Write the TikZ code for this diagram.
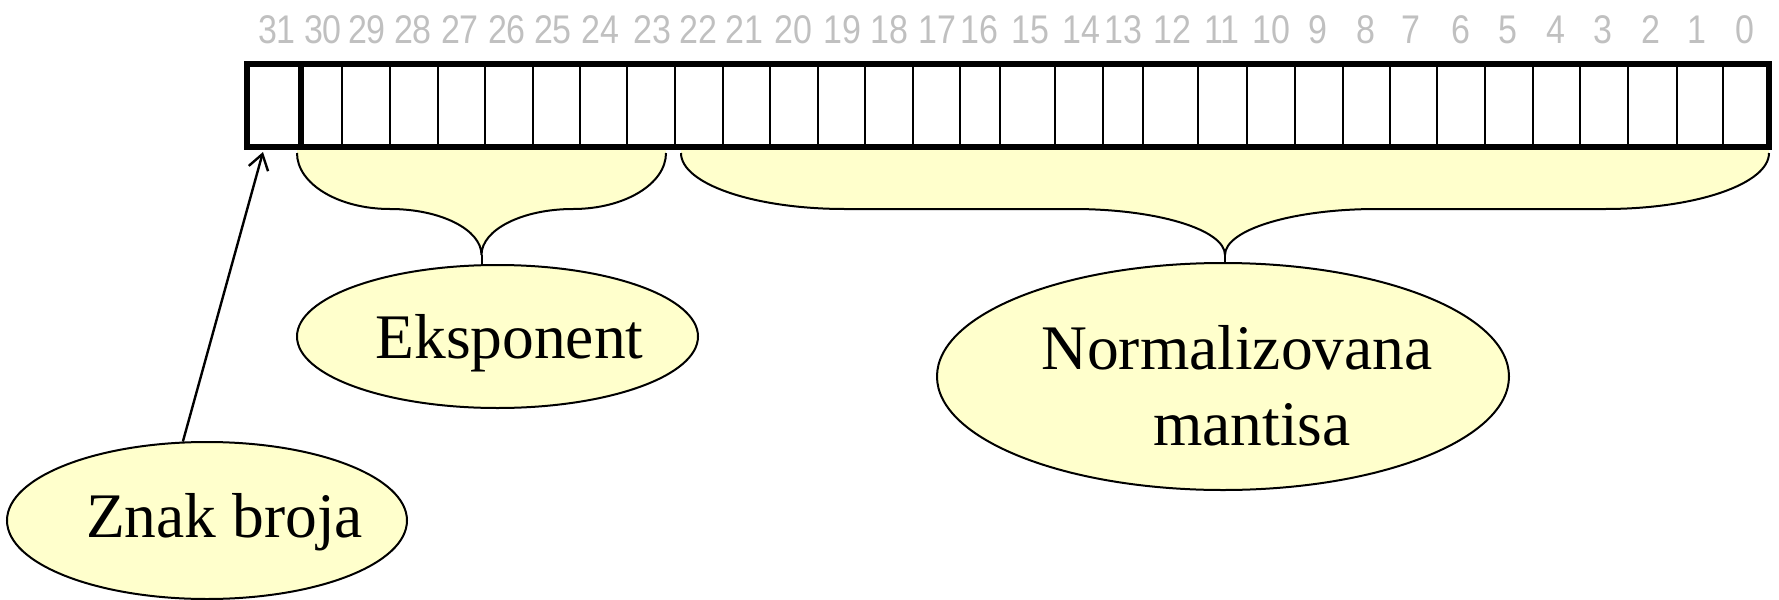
\documentclass[tikz,border=0pt]{standalone}
\usepackage{fontspec}
\usepackage{graphicx}
\setmainfont{Liberation Serif}
\newfontfamily\numfont{Liberation Sans}
\usetikzlibrary{shapes.geometric,arrows.meta}
\definecolor{pale}{HTML}{FFFFCC}
\definecolor{bitgray}{HTML}{C0C0C0}

% curly brace under a group of bits: name, left x, right x, end-curve width, middle-curve width
\newcommand\fieldbrace[5]{%
  \pgfmathsetmacro\brL{#2}\pgfmathsetmacro\brR{#3}%
  \pgfmathsetmacro\brM{(#2+#3)/2}%
  \pgfmathsetmacro\brA{#2+0.4477*#4}\pgfmathsetmacro\brB{#2+#4}%
  \pgfmathsetmacro\brC{\brM-0.4477*#5}\pgfmathsetmacro\brCc{\brM-#5}%
  \pgfmathsetmacro\brD{\brM+0.4477*#5}\pgfmathsetmacro\brDd{\brM+#5}%
  \pgfmathsetmacro\brE{#3-#4}\pgfmathsetmacro\brF{#3-0.4477*#4}%
  \fill[pale] (\brL,149) -- (\brL,153) .. controls (\brL,184) and (\brA,209) .. (\brB,209)
    -- (\brCc,209) .. controls (\brC,209) and (\brM,229.6) .. (\brM,255)
    .. controls (\brM,229.6) and (\brD,209) .. (\brDd,209)
    -- (\brE,209) .. controls (\brF,209) and (\brR,184) .. (\brR,153) -- (\brR,149) -- cycle;
  \draw[brace] (\brL,153) .. controls (\brL,184) and (\brA,209) .. (\brB,209)
    -- (\brCc,209) .. controls (\brC,209) and (\brM,229.6) .. (\brM,255)
    .. controls (\brM,229.6) and (\brD,209) .. (\brDd,209)
    -- (\brE,209) .. controls (\brF,209) and (\brR,184) .. (\brR,153);
  \coordinate (#1) at (\brM,255);
}

\begin{document}
\begin{tikzpicture}[x=0.5pt,y=-0.5pt,
  bitnum/.style={font=\numfont\fontsize{20}{24}\selectfont, text=bitgray, anchor=base, inner sep=0pt},
  blob/.style={ellipse, draw, fill=pale, line width=1pt, inner sep=0pt},
  lbl/.style={font=\fontsize{31.75}{38}\selectfont, anchor=base, inner sep=0pt},
  brace/.style={line width=1pt},
  cellline/.style={line width=1.4pt},
  frame/.style={line width=3pt},
  arr/.style={line width=1.2pt, -{Straight Barb[length=7.5pt,width=10pt]}}]
\useasboundingbox (0,0) rectangle (1779,600);

% bit numbers
\foreach \n/\x in {31/277,30/323,29/367,28/413,27/460,26/507,25/553,24/600,
  23/652,22/698,21/744,20/793,19/842,18/889,17/937,16/979,15/1030,14/1081,
  13/1123,12/1172,11/1222,10/1271,9/1318,8/1366,7/1411,6/1461,5/1508,4/1556,
  3/1603,2/1651,1/1697,0/1745}
  \node[bitnum] (b\n) at (\x,43.5) {\scalebox{0.85}[1]{\n}};

% braces below the exponent and the mantissa
\fieldbrace{expTip}{297}{666}{93}{91.5}
\fieldbrace{manTip}{681}{1769}{164}{152}

% the 32-bit register
\foreach \x in {342,390,438,485,533,580,627,675,723,770,818,865,913,960,1000,
  1055,1103,1143,1198,1247,1295,1343,1390,1437,1485,1533,1580,1628,1677,1723}
  \draw[cellline] (\x,63.5) -- (\x,146.5);
\draw[frame] (301,63.5) -- (301,146.5);
\draw[frame] (247,63.5) rectangle (1769,146.5);

% field labels
\node[blob, minimum width=200.5pt, minimum height=71.5pt] (expE) at (497.5,336.5) {};
\node[blob, minimum width=286pt, minimum height=113.5pt] (manE) at (1223,376.5) {};
\node[blob, minimum width=200pt, minimum height=78.5pt] (znak) at (207,520.5) {};

\draw[brace] (expTip) -- (expTip |- expE.north);
\draw[brace] (manTip) -- (manTip |- manE.north);

\coordinate (signTip) at (263,152);
\draw[arr] (znak.107) -- (signTip);

\node[lbl] (expT) at (509.5,358) {Eksponent};
\node[lbl] (manT1) at (1237,369) {Normalizovana};
\node[lbl] (manT2) at (1252,445) {mantisa};
\node[lbl] (znakT) at (224.5,537) {Znak broja};
\end{tikzpicture}
\end{document}
